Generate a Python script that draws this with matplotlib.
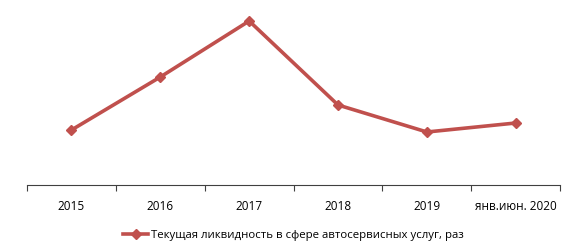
import matplotlib.pyplot as plt
import numpy as np

# Data (no y scale shown, values estimated)
categories = ['2015', '2016', '2017', '2018', '2019', 'янв.июн. 2020']
liquidity = [1.10, 2.16, 3.28, 1.60, 1.06, 1.24]
series_name = 'Текущая ликвидность в сфере автосервисных услуг, раз'

plt.rcParams['font.family'] = ['Open Sans', 'DejaVu Sans']

fig = plt.figure(figsize=(5.69, 2.5), dpi=100)
ax = fig.add_axes([0.0475, 0.26, 0.937, 0.70])

x = np.arange(len(categories))
ax.plot(x, liquidity, color='#C0504D', linewidth=2.6, marker='D',
        markersize=5.5, label=series_name)

ax.set_xlim(-0.5, len(categories) - 0.5)
ax.set_ylim(0, 3.5)

# Category axis: ticks between categories, labels centered
ax.set_xticks(np.arange(-0.5, len(categories)), minor=False)
ax.set_xticklabels([])
ax.set_xticks(x, minor=True)
ax.set_xticklabels(categories, minor=True, fontsize=8.5)
ax.tick_params(axis='x', which='major', direction='out', length=4, color='#404040')
ax.tick_params(axis='x', which='minor', length=0, pad=11)

ax.set_yticks([])
for side in ['top', 'right', 'left']:
    ax.spines[side].set_visible(False)
ax.spines['bottom'].set_color('#404040')

ax.legend(loc='upper center', bbox_to_anchor=(0.5, -0.2), frameon=False,
          fontsize=8.2, handlelength=2.2, handletextpad=0.3)

fig.savefig('out.png', dpi=100)
